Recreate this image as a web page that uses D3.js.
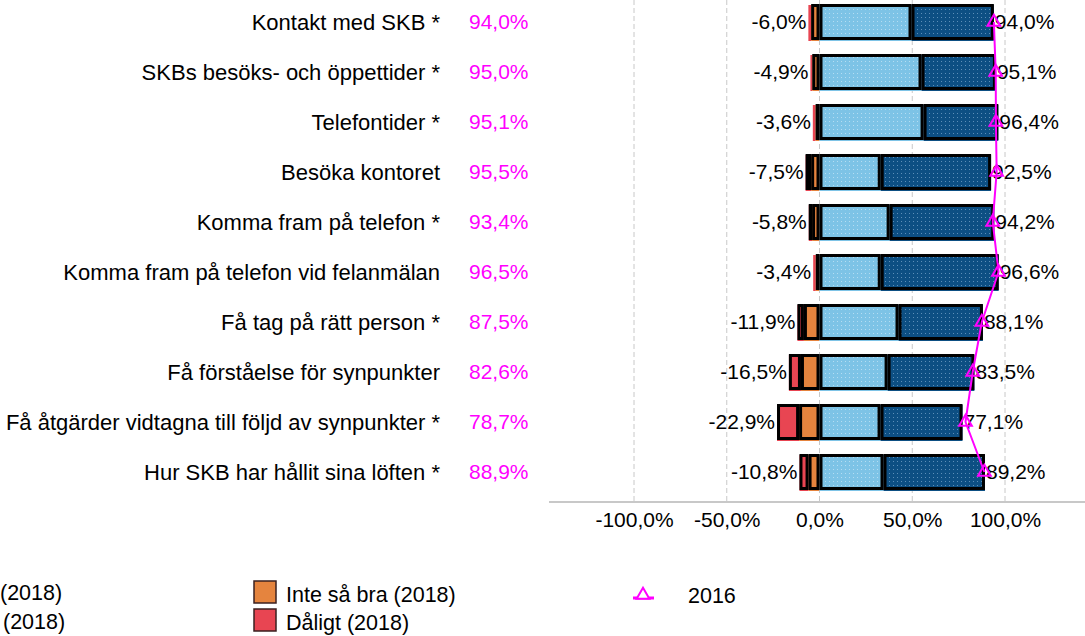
<!DOCTYPE html>
<html>
<head>
<meta charset="utf-8">
<script src="https://cdn.jsdelivr.net/npm/d3@7"></script>
<style>
  body { margin: 0; background: #fff; }
  text { font-family: "Liberation Sans", Arial, sans-serif; }
</style>
</head>
<body>
<div id="chart-area"></div>
<script>
// Categories
var categories = [
    "Kontakt med SKB *",
    "SKBs besöks- och öppettider *",
    "Telefontider *",
    "Besöka kontoret",
    "Komma fram på telefon *",
    "Komma fram på telefon vid felanmälan",
    "Få tag på rätt person *",
    "Få förståelse för synpunkter",
    "Få åtgärder vidtagna till följd av synpunkter *",
    "Hur SKB har hållit sina löften *"
];

// 2018 values (%)
var daligt     = [1.5, 1.0, 1.5, 3.0, 1.8, 1.4, 3.5, 6.5, 11.9, 4.9];
var inteSaBra  = [4.5, 3.9, 2.1, 4.5, 4.0, 2.0, 8.4, 10.0, 11.0, 5.9];
var ganskaBra  = [49.6, 55.0, 56.1, 33.0, 37.8, 33.0, 42.6, 36.7, 32.9, 34.5];
var mycketBra  = [44.4, 40.1, 40.3, 59.5, 56.4, 63.6, 45.5, 46.8, 44.2, 54.7];

// Labels shown
var negLabels = ["-6,0%", "-4,9%", "-3,6%", "-7,5%", "-5,8%", "-3,4%", "-11,9%", "-16,5%", "-22,9%", "-10,8%"];
var posLabels = ["94,0%", "95,1%", "96,4%", "92,5%", "94,2%", "96,6%", "88,1%", "83,5%", "77,1%", "89,2%"];

// 2016 series
var values2016 = [94.0, 95.0, 95.1, 95.5, 93.4, 96.5, 87.5, 82.6, 78.7, 88.9];
var labels2016 = ["94,0%", "95,0%", "95,1%", "95,5%", "93,4%", "96,5%", "87,5%", "82,6%", "78,7%", "88,9%"];

var xTicks = [-100, -50, 0, 50, 100];
var xTickLabels = ["-100,0%", "-50,0%", "0,0%", "50,0%", "100,0%"];

var width = 1085, height = 636;
var fs = "21px";

var svg = d3.select("#chart-area")
    .append("svg")
        .attr("width", width)
        .attr("height", height);

// Dotted texture patterns
var defs = svg.append("defs");
function dotPattern(id, fill, dot) {
    var p = defs.append("pattern")
        .attr("id", id)
        .attr("patternUnits", "userSpaceOnUse")
        .attr("width", 4).attr("height", 4);
    p.append("rect").attr("width", 4).attr("height", 4).attr("fill", fill);
    p.append("rect").attr("x", 1).attr("y", 1).attr("width", 1).attr("height", 1).attr("fill", dot);
}
dotPattern("dotLight", "#7dc3e6", "#b5ddf2");
dotPattern("dotDark", "#0d4f83", "#5e8fb8");

var colors = {
    daligt: "#e84552",
    inte: "#e5843e",
    ganska: "url(#dotLight)",
    mycket: "url(#dotDark)"
};

// Scales
var x = d3.scaleLinear()
    .domain([-100, 100])
    .range([634, 1005]);

var y = d3.scaleBand()
    .domain(categories)
    .range([-3, 497])
    .paddingInner(0.28)
    .paddingOuter(0.14);

// Gridlines
svg.append("g")
    .selectAll("line")
    .data(xTicks)
    .enter()
    .append("line")
        .attr("x1", function(d){ return x(d); })
        .attr("x2", function(d){ return x(d); })
        .attr("y1", 0)
        .attr("y2", 502)
        .attr("stroke", "#c8c8c8")
        .attr("stroke-width", 1)
        .attr("stroke-dasharray", "5,3");

// X Axis
var xAxisCall = d3.axisBottom(x)
    .tickValues(xTicks)
    .tickSize(0)
    .tickPadding(10)
    .tickFormat(function(d, i){ return xTickLabels[i]; });
var xAxis = svg.append("g")
    .attr("transform", "translate(0,502)")
    .call(xAxisCall);
xAxis.select(".domain").remove();
xAxis.append("line")
    .attr("x1", 549).attr("x2", width)
    .attr("y1", 0).attr("y2", 0)
    .attr("stroke", "#c8c8c8").attr("stroke-width", 2);
xAxis.selectAll("text")
    .attr("font-size", "21px")
    .attr("fill", "#000")
    .style("font-family", "'Liberation Sans', Arial, sans-serif");

// Category labels
svg.append("g")
    .selectAll("text")
    .data(categories)
    .enter()
    .append("text")
        .attr("x", 440)
        .attr("y", function(d){ return y(d) + y.bandwidth() / 2; })
        .attr("dy", "0.35em")
        .attr("text-anchor", "end")
        .attr("font-size", "22px")
        .attr("fill", "#000")
        .text(function(d){ return d; });

// 2016 values (magenta)
svg.append("g")
    .selectAll("text")
    .data(labels2016)
    .enter()
    .append("text")
        .attr("x", 469)
        .attr("y", function(d, i){ return y(categories[i]) + y.bandwidth() / 2; })
        .attr("dy", "0.35em")
        .attr("font-size", fs)
        .attr("fill", "#ff00ff")
        .text(function(d){ return d; });

// Build segments
var segs = [];
categories.forEach(function(c, i) {
    var n1 = -(daligt[i] + inteSaBra[i]);
    segs.push({ cat: c, x0: n1, x1: -inteSaBra[i], fill: colors.daligt, under: "#e84552" });
    segs.push({ cat: c, x0: -inteSaBra[i], x1: 0, fill: colors.inte, under: "#e5843e" });
    segs.push({ cat: c, x0: 0, x1: ganskaBra[i], fill: colors.ganska, under: "#7dc3e6" });
    segs.push({ cat: c, x0: ganskaBra[i], x1: ganskaBra[i] + mycketBra[i], fill: colors.mycket, under: "#0d4f83" });
});

// Thin coloured edge under bars
svg.append("g")
    .selectAll("rect")
    .data(segs)
    .enter()
    .append("rect")
        .attr("x", function(d){ return x(d.x0); })
        .attr("y", function(d){ return y(d.cat) + 1; })
        .attr("width", function(d){ return x(d.x1) - x(d.x0); })
        .attr("height", y.bandwidth())
        .attr("fill", function(d){ return d.under; });

// Bars
svg.append("g")
    .selectAll("rect")
    .data(segs)
    .enter()
    .append("rect")
        .attr("x", function(d){ return x(d.x0) + 1.5; })
        .attr("y", function(d){ return y(d.cat) + 1.5; })
        .attr("width", function(d){ return Math.max(0, x(d.x1) - x(d.x0) - 3); })
        .attr("height", y.bandwidth() - 3)
        .attr("fill", function(d){ return d.fill; })
        .attr("stroke", "#000")
        .attr("stroke-width", 3);

// Negative total labels
svg.append("g")
    .selectAll("text")
    .data(negLabels)
    .enter()
    .append("text")
        .attr("x", function(d, i){ return x(-(daligt[i] + inteSaBra[i])) - 2; })
        .attr("y", function(d, i){ return y(categories[i]) + y.bandwidth() / 2; })
        .attr("dy", "0.35em")
        .attr("text-anchor", "end")
        .attr("font-size", fs)
        .attr("fill", "#000")
        .text(function(d){ return d; });

// Positive total labels
svg.append("g")
    .selectAll("text")
    .data(posLabels)
    .enter()
    .append("text")
        .attr("x", function(d, i){ return x(ganskaBra[i] + mycketBra[i]) + 1; })
        .attr("y", function(d, i){ return y(categories[i]) + y.bandwidth() / 2; })
        .attr("dy", "0.35em")
        .attr("font-size", fs)
        .attr("fill", "#000")
        .text(function(d){ return d; });

// 2016 line
var line = d3.line()
    .x(function(d){ return x(d); })
    .y(function(d, i){ return y(categories[i]) + y.bandwidth() / 2; });

svg.append("path")
    .datum(values2016)
    .attr("d", line)
    .attr("fill", "none")
    .attr("stroke", "#ff00ff")
    .attr("stroke-width", 2);

var tri = d3.symbol().type(d3.symbolTriangle).size(70);
svg.append("g")
    .selectAll("path")
    .data(values2016)
    .enter()
    .append("path")
        .attr("d", tri)
        .attr("transform", function(d, i){
            return "translate(" + x(d) + "," + (y(categories[i]) + y.bandwidth() / 2) + ")";
        })
        .attr("fill", "none")
        .attr("stroke", "#ff00ff")
        .attr("stroke-width", 2);

// Legend (left part is cut off in the original, only "(2018)" visible)
var legend = svg.append("g");

legend.append("text")
    .attr("x", 0).attr("y", 592).attr("dy", "0.35em")
    .attr("font-size", "21.5px")
    .text("(2018)");
legend.append("text")
    .attr("x", 3).attr("y", 621).attr("dy", "0.35em")
    .attr("font-size", "21.5px")
    .text("(2018)");

var legendItems = [
    { label: "Inte så bra (2018)", color: "#e5843e", y: 581 },
    { label: "Dåligt (2018)", color: "#e84552", y: 609 }
];
legendItems.forEach(function(d) {
    legend.append("rect")
        .attr("x", 254).attr("y", d.y)
        .attr("width", 22).attr("height", 22)
        .attr("fill", d.color)
        .attr("stroke", "#3a2020")
        .attr("stroke-width", 1.5);
    legend.append("text")
        .attr("x", 286).attr("y", d.y + 13).attr("dy", "0.35em")
        .attr("font-size", "21.5px")
        .text(d.label);
});

legend.append("line")
    .attr("x1", 633).attr("x2", 654)
    .attr("y1", 598).attr("y2", 598)
    .attr("stroke", "#ff00ff").attr("stroke-width", 3);
legend.append("path")
    .attr("d", tri)
    .attr("transform", "translate(643,595)")
    .attr("fill", "#fff")
    .attr("stroke", "#ff00ff")
    .attr("stroke-width", 2);
legend.append("text")
    .attr("x", 688).attr("y", 595).attr("dy", "0.35em")
    .attr("font-size", "21.5px")
    .text("2016");
</script>
</body>
</html>
